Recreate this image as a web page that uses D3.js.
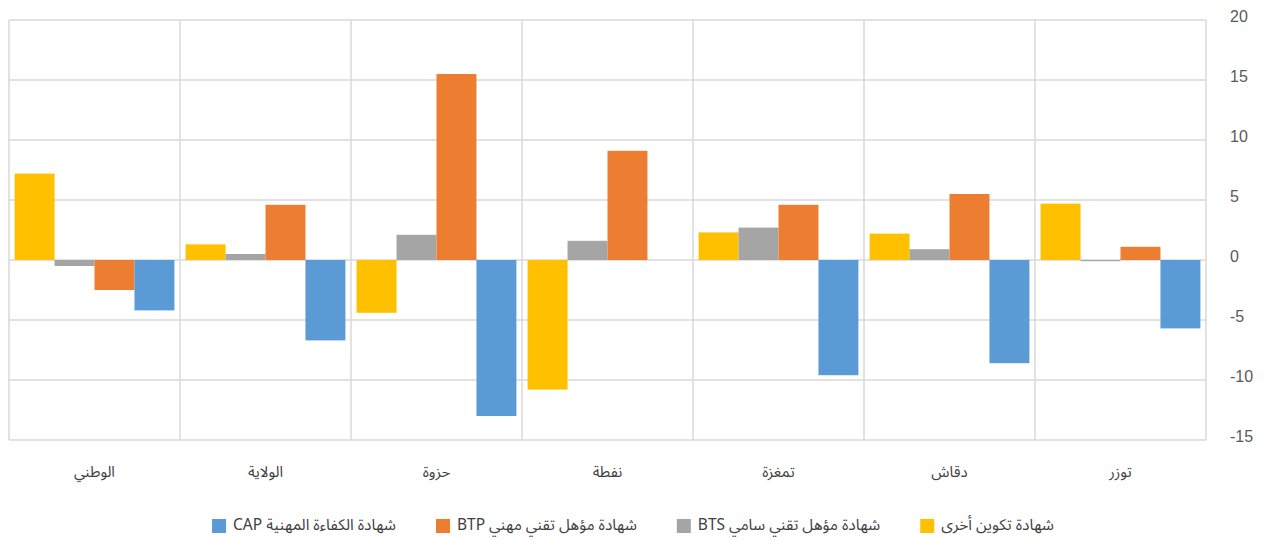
<!DOCTYPE html>
<html><head><meta charset="utf-8">
<script src="https://cdn.jsdelivr.net/npm/d3@7"></script>
<style>body{margin:0;background:#fff}svg{display:block}</style>
</head><body>
<svg id="c" width="1264" height="541"></svg>
<script>
// Data (display order, left to right)
const categories = ["الوطني","الولاية","حزوة","نفطة","تمغزة","دقاش","توزر"];
const seriesNames = ["شهادة تكوين أخرى","شهادة مؤهل تقني سامي BTS","شهادة مؤهل تقني مهني BTP","شهادة الكفاءة المهنية CAP"];
const otherValues = [7.2, 1.3, -4.4, -10.8, 2.3, 2.2, 4.7];
const btsValues   = [-0.5, 0.5, 2.1, 1.6, 2.7, 0.9, -0.1];
const btpValues   = [-2.5, 4.6, 15.5, 9.1, 4.6, 5.5, 1.1];
const capValues   = [-4.2, -6.7, -13.0, 0, -9.6, -8.6, -5.7];
const yTicks = [20, 15, 10, 5, 0, -5, -10, -15];
const colors = ["#FFC000","#A5A5A5","#ED7D31","#5B9BD5"];
const legendOrder = [3, 2, 1, 0]; // visual left-to-right

(function(){
const series = [otherValues, btsValues, btpValues, capValues];
const svg = d3.select("#c");
const pL = 9, pR = 1206, pT = 20, pB = 440;

const x0 = d3.scaleBand().domain(categories).range([pL, pR]).paddingInner(0).paddingOuter(0);
const x1 = d3.scaleBand().domain(d3.range(4)).range([0, x0.bandwidth()]).paddingInner(0).paddingOuter(0.14);
const y = d3.scaleLinear().domain([-15, 20]).range([pB, pT]);

const grid = "#d9d9d9";
svg.append("g").selectAll("line").data(yTicks).join("line")
  .attr("x1", pL).attr("x2", pR)
  .attr("y1", d => y(d)).attr("y2", d => y(d))
  .attr("stroke", grid).attr("stroke-width", 1.5);
const bounds = categories.map(c => x0(c)).concat([pR]);
svg.append("g").selectAll("line").data(bounds).join("line")
  .attr("x1", d => d).attr("x2", d => d)
  .attr("y1", pT).attr("y2", pB)
  .attr("stroke", grid).attr("stroke-width", 1.5);

series.forEach((vals, si) => {
  svg.append("g").selectAll("rect").data(vals).join("rect")
    .attr("x", (d, i) => x0(categories[i]) + x1(si))
    .attr("width", x1.bandwidth())
    .attr("y", d => Math.min(y(d), y(0)))
    .attr("height", d => Math.abs(y(d) - y(0)))
    .attr("fill", colors[si]);
});

const yAxis = d3.axisRight(y).tickValues(yTicks).tickSize(0).tickPadding(0).tickFormat(d3.format("d"));
const ag = svg.append("g").attr("transform", `translate(1230,0)`).call(yAxis);
ag.select(".domain").remove();
ag.selectAll("text").attr("fill", "#595959").attr("font-family", "Liberation Sans, Arial, sans-serif")
  .attr("font-size", 16).attr("dy", "0.1em").text(d => d < 0 ? "-" + Math.abs(d) : d);

const arFont = "'Noto Sans Arabic','DejaVu Sans',sans-serif";
svg.append("g").selectAll("text").data(categories).join("text")
  .attr("x", d => x0(d) + x0.bandwidth() / 2).attr("y", 477)
  .attr("text-anchor", "middle").attr("direction", "rtl")
  .attr("font-family", arFont).attr("font-size", 15).attr("fill", "#404040")
  .text(d => d);

const lg = svg.append("g");
const items = legendOrder.map(i => {
  const t = lg.append("text").attr("direction", "rtl").attr("font-family", arFont)
    .attr("font-size", 15.5).attr("fill", "#404040").attr("text-anchor", "middle").attr("y", 530).text(seriesNames[i]);
  return {i, t, w: t.node().getComputedTextLength()};
});
const sq = 14, gap1 = 7, gap2 = 40;
const total = d3.sum(items, d => sq + gap1 + d.w) + gap2 * (items.length - 1);
let cx = 633 - total / 2;
items.forEach(it => {
  lg.append("rect").attr("x", cx).attr("y", 519).attr("width", sq).attr("height", sq).attr("fill", colors[it.i]);
  it.t.attr("x", cx + sq + gap1 + it.w / 2);
  cx += sq + gap1 + it.w + gap2;
});
})();
</script>
</body></html>
